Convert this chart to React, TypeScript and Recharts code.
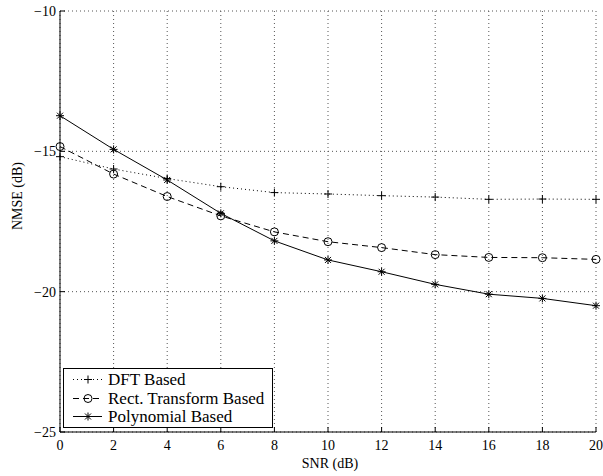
import { LineChart, Line, XAxis, YAxis, CartesianGrid } from 'recharts';

const snr = [0, 2, 4, 6, 8, 10, 12, 14, 16, 18, 20];
const dftBased = [-15.19, -15.63, -15.97, -16.26, -16.47, -16.52, -16.58, -16.63, -16.71, -16.7, -16.71];
const rectBased = [-14.83, -15.81, -16.61, -17.3, -17.87, -18.22, -18.43, -18.68, -18.78, -18.79, -18.85];
const polyBased = [-13.73, -14.93, -16.02, -17.21, -18.19, -18.87, -19.29, -19.74, -20.09, -20.24, -20.5];
const xTicks = [0, 2, 4, 6, 8, 10, 12, 14, 16, 18, 20];
const yTicks = [-25, -20, -15, -10];

const data = snr.map((s, i) => ({ snr: s, dft: dftBased[i], rect: rectBased[i], poly: polyBased[i] }));

const FONT = '"Liberation Serif", "Times New Roman", "DejaVu Serif", serif';
const tickStyle = { fill: '#000', fontSize: 14, fontFamily: FONT };

const PlusDot = (p: any) => {
  const { cx, cy } = p;
  if (cx == null || cy == null) return <g key={p.key} />;
  return (
    <g key={p.key} stroke="#000" strokeWidth={1}>
      <line x1={cx - 4} y1={cy} x2={cx + 4} y2={cy} />
      <line x1={cx} y1={cy - 4} x2={cx} y2={cy + 4} />
    </g>
  );
};

const CircleDot = (p: any) => {
  const { cx, cy } = p;
  if (cx == null || cy == null) return <g key={p.key} />;
  return <circle key={p.key} cx={cx} cy={cy} r={4} fill="none" stroke="#000" strokeWidth={1} />;
};

const StarDot = (p: any) => {
  const { cx, cy } = p;
  if (cx == null || cy == null) return <g key={p.key} />;
  return (
    <g key={p.key} stroke="#000" strokeWidth={1}>
      <line x1={cx - 4} y1={cy} x2={cx + 4} y2={cy} />
      <line x1={cx} y1={cy - 4} x2={cx} y2={cy + 4} />
      <line x1={cx - 3} y1={cy - 3} x2={cx + 3} y2={cy + 3} />
      <line x1={cx - 3} y1={cy + 3} x2={cx + 3} y2={cy - 3} />
    </g>
  );
};

const legendItems = [
  { label: 'DFT Based', dash: '1 3', dot: PlusDot },
  { label: 'Rect. Transform Based', dash: '6 4', dot: CircleDot },
  { label: 'Polynomial Based', dash: undefined, dot: StarDot },
];

function LegendBox() {
  return (
    <div
      style={{
        position: 'absolute',
        left: 63,
        top: 368,
        width: 208,
        height: 58,
        border: '1px solid #000',
        background: '#fff',
        fontFamily: FONT,
        fontSize: 17,
      }}
    >
      {legendItems.map((it, i) => (
        <div key={it.label} style={{ position: 'absolute', left: 0, top: 1 + i * 18.5, height: 19, display: 'flex', alignItems: 'center' }}>
          <svg width={44} height={19} style={{ display: 'block' }}>
            <line x1={9} y1={9.5} x2={38} y2={9.5} stroke="#000" strokeDasharray={it.dash} />
            {it.dot({ cx: 24, cy: 9.5, key: 'k' })}
          </svg>
          <span style={{ whiteSpace: 'nowrap', lineHeight: '19px' }}>{it.label}</span>
        </div>
      ))}
    </div>
  );
}

export default function App() {
  return (
    <div style={{ position: 'relative', width: 603, height: 476, background: '#fff' }}>
      <style>{'body{margin:0}'}</style>
      <LineChart width={603} height={476} data={data} margin={{ top: 11, right: 7, bottom: 0, left: 0 }}>
        <CartesianGrid stroke="#555" strokeDasharray="1 3" />
        <XAxis
          dataKey="snr"
          type="number"
          domain={[0, 20]}
          ticks={xTicks}
          height={44}
          stroke="#000"
          tickSize={-5}
          tickMargin={13}
          tick={tickStyle}
          interval={0}
        />
        <XAxis
          xAxisId="top"
          orientation="top"
          type="number"
          domain={[0, 20]}
          ticks={xTicks}
          height={0}
          stroke="#000"
          tickSize={-5}
          tick={false}
        />
        <YAxis
          type="number"
          domain={[-25, -10]}
          ticks={yTicks}
          width={60}
          stroke="#000"
          tickSize={-5}
          tickMargin={9}
          tick={tickStyle}
          interval={0}
          tickFormatter={(v: number) => String(v).replace('-', '\u2212')}
        />
        <YAxis
          yAxisId="right"
          orientation="right"
          type="number"
          domain={[-25, -10]}
          ticks={yTicks}
          width={0}
          stroke="#000"
          tickSize={-5}
          tick={false}
        />
        <Line dataKey="dft" stroke="#000" strokeWidth={1} strokeDasharray="1 3" dot={PlusDot} isAnimationActive={false} />
        <Line dataKey="rect" stroke="#000" strokeWidth={1} strokeDasharray="6 4" dot={CircleDot} isAnimationActive={false} />
        <Line dataKey="poly" stroke="#000" strokeWidth={1} dot={StarDot} isAnimationActive={false} />
      </LineChart>
      <div style={{ position: 'absolute', left: 0, top: 455, width: 603, paddingLeft: 57, boxSizing: 'border-box', textAlign: 'center', fontFamily: FONT, fontSize: 14, lineHeight: '18px' }}>
        SNR (dB)
      </div>
      <div
        style={{
          position: 'absolute',
          left: 18,
          top: 196,
          transform: 'translate(-50%, -50%) rotate(-90deg)',
          fontFamily: FONT,
          fontSize: 14,
          whiteSpace: 'nowrap',
        }}
      >
        NMSE (dB)
      </div>
      <LegendBox />
    </div>
  );
}
